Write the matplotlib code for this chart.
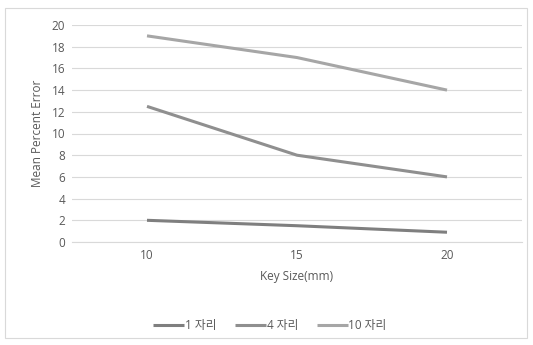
import matplotlib
matplotlib.use("Agg")
import matplotlib.pyplot as plt
from matplotlib.patches import Rectangle

plt.rcParams['font.family'] = ['Open Sans', 'Noto Sans CJK KR', 'DejaVu Sans']

categories = ["10", "15", "20"]
series_names = ["1 자리", "4 자리", "10 자리"]
s1 = [2.0, 1.5, 0.9]
s4 = [12.5, 8.0, 6.0]
s10 = [19.0, 17.0, 14.0]
yticks = [0, 2, 4, 6, 8, 10, 12, 14, 16, 18, 20]
colors = ["#7f7f7f", "#8f8f8f", "#a6a6a6"]

fig = plt.figure(figsize=(5.33, 3.45), dpi=100)
fig.patches.append(Rectangle((5/533, 1-338/345), 522/533, 330/345, transform=fig.transFigure,
                             fill=False, edgecolor="#d9d9d9", linewidth=0.8))
ax = fig.add_axes([72/533, 1-242/345, 450/533, 217/345])
x = list(range(len(categories)))
for vals, name, c in zip([s1, s4, s10], series_names, colors):
    ax.plot(x, vals, color=c, linewidth=2.2, label=name, solid_capstyle='butt')
ax.set_xlim(-0.5, 2.5)
ax.set_ylim(0, 20)
ax.set_yticks(yticks)
ax.set_xticks(x)
ax.set_xticklabels(categories)
ax.grid(axis='y', color="#d9d9d9", linewidth=0.8)
ax.set_axisbelow(True)
for s in ax.spines.values():
    s.set_visible(False)
ax.spines['bottom'].set_visible(True)
ax.spines['bottom'].set_color("#d9d9d9")
ax.tick_params(length=0, labelsize=8.5, labelcolor="#595959", pad=5)
ax.set_ylabel("Mean Percent Error", fontsize=8.5, color="#595959", labelpad=5)
ax.set_xlabel("Key Size(mm)", fontsize=8.5, color="#595959", labelpad=6)
leg = ax.legend(loc='center', bbox_to_anchor=(0.44, -0.385), ncol=3, frameon=False,
                fontsize=8.5, handlelength=2.6, handletextpad=0.05, columnspacing=1.6,
                labelcolor="#595959")
fig.savefig("out.png", dpi=100)
